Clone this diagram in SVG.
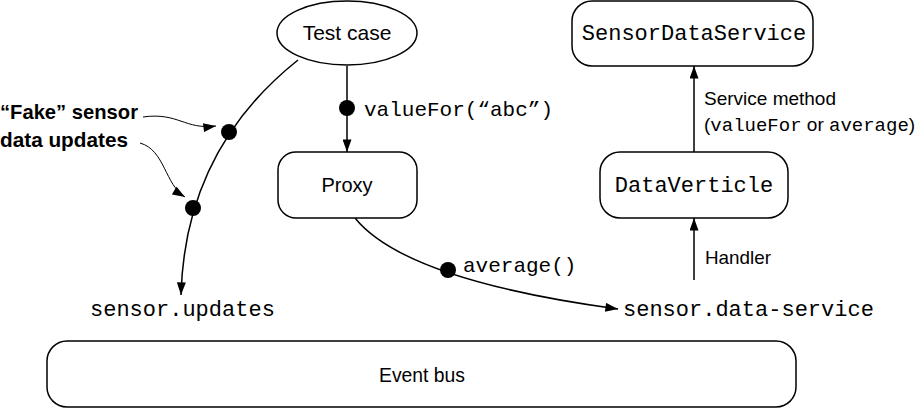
<svg xmlns="http://www.w3.org/2000/svg" width="919" height="408" viewBox="0 0 919 408">
<defs>
<marker id="ah" viewBox="0 0 14 10" refX="14" refY="5" markerWidth="14" markerHeight="9" markerUnits="userSpaceOnUse" orient="auto">
<path d="M0,0 L14,5 L0,10 Z" fill="#000"/>
</marker>
</defs>
<style>
.box{fill:#fff;stroke:#000;stroke-width:1.5}
.ln{fill:none;stroke:#000;stroke-width:1.5}
.thin{fill:none;stroke:#000;stroke-width:1}
.sans{font-family:"Liberation Sans",Arial,sans-serif;fill:#000}
.mono{font-family:"Liberation Mono","Courier New",monospace;fill:#000}
.bold{font-family:"Liberation Sans",Arial,sans-serif;font-weight:bold;fill:#000}
</style>
<rect width="919" height="408" fill="#fff"/>
<g id="connectors">
<path class="ln" d="M298,60 Q185,150 181,295" marker-end="url(#ah)"/>
<circle cx="229" cy="132" r="8"/>
<circle cx="193" cy="208" r="8"/>
<line class="ln" x1="347" y1="66" x2="347" y2="152" marker-end="url(#ah)"/>
<circle cx="347" cy="108" r="8"/>
<path class="ln" d="M355,218 Q405,280 618,309" marker-end="url(#ah)"/>
<circle cx="448" cy="270" r="8"/>
<line class="ln" x1="694" y1="152" x2="694" y2="66" marker-end="url(#ah)"/>
<line class="ln" x1="694" y1="280" x2="694" y2="218" marker-end="url(#ah)"/>
<path class="thin" d="M143,117 C178,112 185,130 216,126" marker-end="url(#ah)"/>
<path class="thin" d="M140,143 C165,150 165,185 185,197" marker-end="url(#ah)"/>
</g>
<g id="testcase">
<ellipse class="box" cx="347" cy="33" rx="70" ry="32"/>
<text class="sans" x="347" y="40" font-size="21" text-anchor="middle">Test case</text>
</g>
<g id="proxy">
<rect class="box" x="278" y="152" width="139" height="66" rx="18"/>
<text class="sans" x="347" y="192" font-size="20" text-anchor="middle">Proxy</text>
</g>
<g id="sensordataservice">
<rect class="box" x="572" y="1" width="241" height="65" rx="20"/>
<text class="mono" x="694" y="40" font-size="22" text-anchor="middle">SensorDataService</text>
</g>
<g id="dataverticle">
<rect class="box" x="600" y="152" width="188" height="66" rx="20"/>
<text class="mono" x="694" y="192" font-size="22" text-anchor="middle">DataVerticle</text>
</g>
<g id="eventbus">
<rect class="box" x="47" y="341" width="749" height="66" rx="20"/>
<text class="sans" x="422" y="382" font-size="20" text-anchor="middle" textLength="86" lengthAdjust="spacingAndGlyphs">Event bus</text>
</g>
<g id="labels">
<text class="mono" x="364" y="116" font-size="21">valueFor(“abc”)</text>
<text class="mono" x="463" y="272" font-size="21">average()</text>
<text class="mono" x="90" y="316" font-size="22">sensor.updates</text>
<text class="mono" x="623" y="316" font-size="22">sensor.data-service</text>
<text class="sans" x="704" y="105" font-size="19">Service method</text>
<text x="704" y="131" font-size="19"><tspan class="sans">(</tspan><tspan class="mono">valueFor</tspan><tspan class="sans"> or </tspan><tspan class="mono">average</tspan><tspan class="sans">)</tspan></text>
<text class="sans" x="705" y="264" font-size="19" textLength="66" lengthAdjust="spacingAndGlyphs">Handler</text>
<text class="bold" x="0" y="119" font-size="21" textLength="138" lengthAdjust="spacingAndGlyphs">“Fake” sensor</text>
<text class="bold" x="0" y="147" font-size="21" textLength="128" lengthAdjust="spacingAndGlyphs">data updates</text>
</g>
</svg>
